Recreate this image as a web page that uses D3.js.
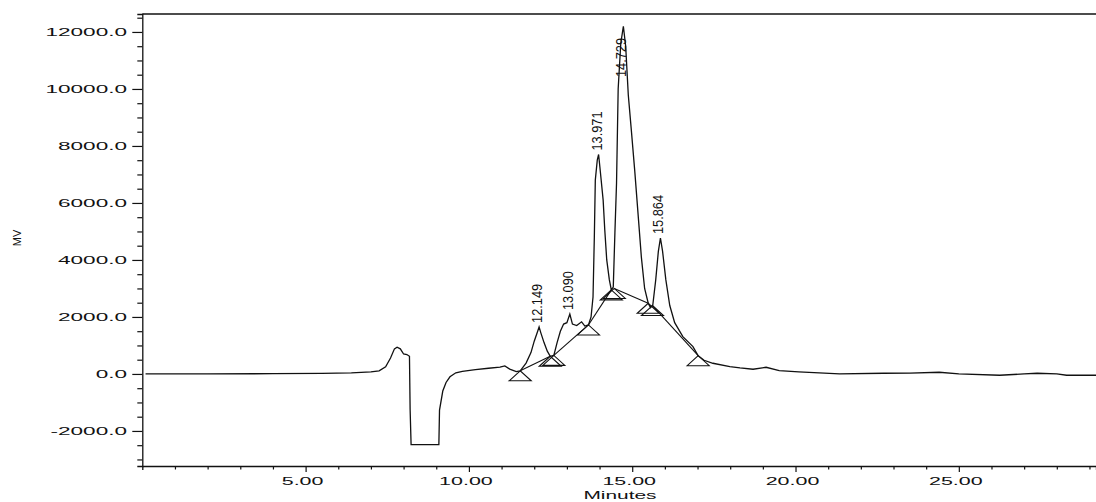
<!DOCTYPE html>
<html>
<head>
<meta charset="utf-8">
<script src="https://cdn.jsdelivr.net/npm/d3@7"></script>
<style>
  html, body { margin: 0; padding: 0; background: #fff; }
  svg { display: block; }
  text { font-family: "Liberation Sans", Arial, sans-serif; fill: #111; }
</style>
</head>
<body>
<svg id="chart" width="1096" height="502"></svg>
<script>
// Chromatogram trace: retention time (minutes) and detector signal (MV)
const minutes = [
  0.1, 2.0, 4.0, 5.5, 6.4, 7.0, 7.25, 7.45, 7.6, 7.72,
  7.8, 7.9, 8.0, 8.1, 8.18, 8.2, 8.23, 9.08, 9.1, 9.2,
  9.3, 9.42, 9.6, 9.8, 10.2, 10.6, 10.95, 11.1, 11.25, 11.45,
  11.57, 11.75, 11.9, 12.0, 12.1, 12.149, 12.2, 12.3, 12.4, 12.49,
  12.6, 12.7, 12.8, 12.9, 13.0, 13.09, 13.17, 13.3, 13.45, 13.55,
  13.66, 13.74, 13.8, 13.84, 13.87, 13.93, 13.971, 14.01, 14.11, 14.16,
  14.22, 14.3, 14.36, 14.42, 14.47, 14.52, 14.57, 14.65, 14.729, 14.8,
  14.88, 14.98, 15.08, 15.18, 15.28, 15.38, 15.49, 15.56, 15.63, 15.72,
  15.8, 15.864, 15.93, 16.03, 16.15, 16.3, 16.55, 16.86, 17.02, 17.2,
  17.47, 17.99, 18.3, 18.7, 19.1, 19.5, 20.1, 21.35, 22.7, 23.5,
  24.4, 25.0, 26.25, 27.0, 27.4, 28.0, 28.3, 29.3
];
const mv = [
  0, 0, 10, 20, 40, 70, 110, 250, 560, 880,
  940, 880, 700, 680, 620, -1250, -2480, -2480, -1270, -600,
  -300, -100, 40, 90, 150, 200, 240, 280, 170, 80,
  110, 380, 750, 1150, 1480, 1650, 1450, 1100, 800, 620,
  650, 1100, 1500, 1750, 1800, 2100, 1750, 1700, 1830, 1680,
  1720, 2000, 2700, 4800, 6800, 7500, 7700, 7260, 6100, 5050,
  4000, 3300, 2950, 3050, 4950, 6700, 10000, 11600, 12200, 11500,
  9790, 8460, 7090, 5600, 4100, 3000, 2480, 2330, 2420, 3300,
  4300, 4770, 4300, 3300, 2400, 1800, 1310, 960, 640, 480,
  375, 255, 210, 165, 235, 115, 70, 0, 25, 30,
  60, 0, -45, 0, 25, 0, -45, -45
];

// Integrated peaks (retention time labels)
const peakTimes = [12.149, 13.090, 13.971, 14.729, 15.864];
const peakLabels = ["12.149", "13.090", "13.971", "14.729", "15.864"];

// Baseline start/end markers and the baseline segments joining them
const baseTimes = [11.57, 12.49, 12.60, 13.66, 14.36, 14.45, 15.49, 15.62, 17.02];
const baseValues = [110, 620, 650, 1720, 2950, 3000, 2480, 2400, 640];
const baseSegments = [[0, 1], [2, 3], [3, 4], [5, 6], [7, 8]];

// Axis ticks
const xMajorTicks = [5, 10, 15, 20, 25];
const xTickLabels = ["5.00", "10.00", "15.00", "20.00", "25.00"];
const yMajorTicks = [-2000, 0, 2000, 4000, 6000, 8000, 10000, 12000];
const yTickLabels = ["-2000.0", "0.0", "2000.0", "4000.0", "6000.0", "8000.0", "10000.0", "12000.0"];

const svg = d3.select("#chart");
const plotLeft = 142.3, plotRight = 1096, plotTop = 14, plotBottom = 466;

const x = d3.scaleLinear().domain([0, 29.2]).range([plotLeft, plotRight]);
const y = d3.scaleLinear().domain([-3230, 12630]).range([plotBottom, plotTop]);

const trace = minutes.map((t, i) => [t, mv[i]]);

// Top border of the plot frame
svg.append("line").attr("x1", plotLeft).attr("x2", plotRight).attr("y1", plotTop).attr("y2", plotTop)
  .attr("stroke", "#111").attr("stroke-width", 1.3);

// X axis with minor ticks every minute
const xAxis = d3.axisBottom(x)
  .tickValues(d3.range(1, 30, 1))
  .tickSize(4)
  .tickFormat("");
const gx = svg.append("g").attr("transform", `translate(0,${plotBottom})`).call(xAxis);
gx.select(".domain").attr("stroke", "#111").attr("stroke-width", 1.3);
gx.selectAll(".tick line").attr("stroke", "#111").attr("stroke-width", 1.2)
  .attr("y2", d => (d % 5 === 0 ? 6 : 3.5));

// Y axis with minor ticks every 500
const yAxis = d3.axisLeft(y)
  .tickValues(d3.range(-3000, 12501, 500))
  .tickSize(5)
  .tickFormat("");
const gy = svg.append("g").attr("transform", `translate(${plotLeft},0)`).call(yAxis);
gy.select(".domain").attr("stroke", "#111").attr("stroke-width", 1.3);
gy.selectAll(".tick line").attr("stroke", "#111").attr("stroke-width", 1.2)
  .attr("x2", d => (d % 2000 === 0 ? -10 : -5));

// Tick labels (wide, horizontally stretched lettering)
yMajorTicks.forEach((v, i) => {
  svg.append("g").attr("transform", `translate(127,${y(v) + 4})`)
    .append("text")
    .attr("transform", "scale(2.05,1)")
    .attr("text-anchor", "end")
    .attr("font-size", 11)
    .text(yTickLabels[i]);
});
xMajorTicks.forEach((v, i) => {
  svg.append("g").attr("transform", `translate(${x(v) - 3},485)`)
    .append("text")
    .attr("transform", "scale(1.95,1)")
    .attr("text-anchor", "middle")
    .attr("font-size", 11)
    .text(xTickLabels[i]);
});

// Axis titles
svg.append("g").attr("transform", "translate(620,499)")
  .append("text").attr("transform", "scale(1.9,1)")
  .attr("text-anchor", "middle").attr("font-size", 11).text("Minutes");
svg.append("text")
  .attr("transform", "translate(21,238) rotate(-90)")
  .attr("text-anchor", "middle").attr("font-size", 11).text("MV");

// Signal trace
const line = d3.line().x(d => x(d[0])).y(d => y(d[1])).curve(d3.curveLinear);
svg.append("path").datum(trace)
  .attr("d", line)
  .attr("fill", "none")
  .attr("stroke", "#111")
  .attr("stroke-width", 1.3)
  .attr("stroke-linejoin", "miter");

// Baseline segments under the integrated peaks
baseSegments.forEach(([a, b]) => {
  svg.append("line")
    .attr("x1", x(baseTimes[a])).attr("y1", y(baseValues[a]))
    .attr("x2", x(baseTimes[b])).attr("y2", y(baseValues[b]))
    .attr("stroke", "#111").attr("stroke-width", 1.1);
});

// Baseline markers: open triangles with the apex on the baseline point
svg.append("g").selectAll("path")
  .data(baseTimes.map((t, i) => [t, baseValues[i]]))
  .join("path")
  .attr("d", d => {
    const px = x(d[0]), py = y(d[1]);
    return `M${px},${py}L${px - 11},${py + 10}L${px + 11},${py + 10}Z`;
  })
  .attr("fill", "none")
  .attr("stroke", "#111")
  .attr("stroke-width", 1.1);

// Peak labels, rotated, sitting above each apex
const labelLen = 39;
peakTimes.forEach((t, i) => {
  const idx = d3.minIndex(minutes, m => Math.abs(m - t));
  const peakY = y(mv[idx]);
  let start = peakY - 4;
  if (start - labelLen < plotTop + 24) start = plotTop + 24 + labelLen;
  svg.append("text")
    .attr("transform", `translate(${x(t) + 3},${start}) rotate(-90)`)
    .attr("font-size", 14)
    .attr("textLength", labelLen)
    .attr("lengthAdjust", "spacingAndGlyphs")
    .text(peakLabels[i]);
});
</script>
</body>
</html>
